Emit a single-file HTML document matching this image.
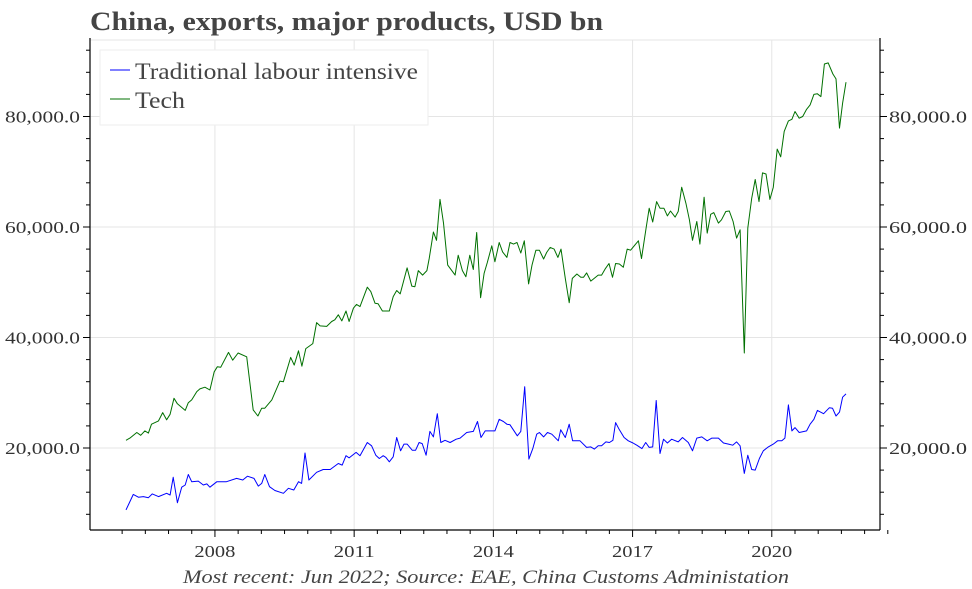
<!DOCTYPE html>
<html><head><meta charset="utf-8">
<style>
body{margin:0;background:#fff;}
svg{display:block;font-family:"Liberation Serif",serif;}
</style></head>
<body>
<svg id="chart" width="972" height="589" viewBox="0 0 972 589">
<text x="90" y="30" font-size="26" font-weight="bold" fill="#444" textLength="513" lengthAdjust="spacingAndGlyphs">China, exports, major products, USD bn</text>
<g id="grid"></g>
<g id="axes"></g>
<g id="series"></g>
<g>
<rect x="100" y="50" width="328" height="75" fill="#fff" stroke="#eee"/>
<g>
<line x1="110" y1="70" x2="130" y2="70" stroke="#0000ff" stroke-width="1"/>
<text x="135" y="79" font-size="23" fill="#444" textLength="283" lengthAdjust="spacingAndGlyphs">Traditional labour intensive</text></g>
<g>
<line x1="110" y1="99" x2="130" y2="99" stroke="#007000" stroke-width="1"/>
<text x="135" y="108" font-size="23" fill="#444" textLength="50" lengthAdjust="spacingAndGlyphs">Tech</text></g>
</g>
<text x="183" y="583" font-size="19" font-style="italic" fill="#444" textLength="606" lengthAdjust="spacingAndGlyphs">Most recent: Jun 2022; Source: EAE, China Customs Administation</text>
</svg>
<script>
// month index since Jan 2006
const techMonths=[0,1.0,2.8,3.8,4.9,5.8,6.6,8.4,9.5,10.5,11.4,12.4,13.3,15.3,16.1,17.0,18.3,19.1,20.4,21.7,22.8,23.6,24.5,26.5,27.6,29.0,31.2,32.9,34.1,35.1,35.9,37.7,39.8,40.7,42.6,43.5,44.6,45.5,46.5,48.3,49.3,50.2,51.9,53.2,54.0,54.9,55.8,56.9,57.7,58.8,59.6,60.5,62.4,63.3,64.4,65.2,66.3,68.1,69.1,70.0,70.9,72.7,73.9,74.7,75.6,76.7,77.8,78.4,79.5,80.3,81.2,82.1,83.2,85.1,85.9,87.0,87.9,88.9,89.8,90.7,91.7,92.6,93.4,94.6,95.4,96.5,97.4,98.5,99.3,100.2,101.1,102.1,103.0,104.1,105.0,106.0,106.9,108.0,108.8,109.7,110.7,111.7,112.5,113.6,114.6,115.4,116.6,117.6,118.3,119.1,120.2,122.1,123.0,124.0,124.9,125.8,126.6,127.6,128.6,129.6,130.5,132.5,133.3,134.5,135.3,136.2,137.2,138.1,139.1,140.0,140.8,142.0,142.8,143.7,144.8,145.7,146.5,147.6,148.4,149.5,150.3,151.2,152.0,153.2,154.0,155.1,156.0,157.0,157.9,158.8,159.9,160.8,161.8,162.7,163.7,164.6,165.5,166.5,167.4,168.4,169.3,170.2,171.3,172.2,173.0,174.1,175.0,176.0,176.9,177.9,178.8,179.7,180.6,181.6,182.8,183.6,184.5,185.3,186.2];
const techValues=[21.4,21.8,22.8,22.3,23.1,22.7,24.3,24.9,26.4,25.1,26.1,29.0,28.0,26.8,28.2,28.7,30.2,30.7,31.0,30.5,33.8,34.7,34.6,37.3,35.9,37.2,36.5,26.9,25.8,27.2,27.2,28.7,32.1,32.0,36.4,35.0,37.6,34.8,38.0,38.9,42.7,42.1,42.0,42.9,43.2,44.1,43.0,44.8,42.9,45.3,46.0,45.6,49.1,48.3,46.2,46.1,44.8,44.8,47.4,48.5,47.9,52.6,49.3,49.2,52.1,51.3,52.1,54.3,59.1,57.6,65.0,60.7,53.1,51.3,54.9,52.1,51.0,54.9,52.3,59.0,47.2,51.6,53.5,56.6,53.7,57.2,55.5,54.5,57.2,56.9,57.2,55.3,57.5,49.7,53.1,55.8,55.8,54.2,55.4,56.3,56.0,54.5,56.0,50.7,46.3,50.7,51.5,50.9,50.9,51.7,50.2,51.3,51.3,52.5,53.4,50.9,53.4,53.3,52.7,56.0,55.8,57.5,54.3,59.8,63.4,60.9,64.6,63.4,63.4,62.0,62.9,61.8,62.8,67.2,64.3,61.3,57.6,61.0,56.9,65.4,58.9,62.3,62.6,60.7,61.3,62.8,62.9,61.0,58.0,59.5,37.2,59.8,65.2,68.6,64.6,69.8,69.6,65.0,67.2,74.1,72.7,77.3,79.2,79.5,80.9,79.7,80.0,81.3,82.1,84.0,84.1,83.6,89.5,89.7,87.7,86.8,77.9,82.4,86.2];
const tradMonths=[0,1.9,3.2,4.5,5.8,6.8,8.4,10.5,11.4,12.2,13.3,14.4,15.3,16.1,17.0,18.7,20.0,20.9,21.7,23.5,26.0,28.6,30.2,31.4,33.1,34.2,35.1,35.9,37.1,38.5,40.7,42.0,43.4,44.6,45.4,46.3,47.3,49.3,51.0,52.8,54.9,55.9,56.9,57.7,59.5,60.5,62.4,63.5,64.6,65.5,66.5,67.2,68.1,69.1,70.0,71.0,71.9,72.7,74.0,74.9,75.8,76.6,77.6,78.6,79.5,80.5,81.4,82.5,83.8,85.4,86.4,88.1,89.8,90.9,91.8,92.9,94.1,95.4,96.5,97.6,98.5,99.3,101.2,102.1,103.1,104.2,105.2,106.2,106.9,108.0,109.0,110.1,111.8,112.4,113.6,114.6,115.5,117.4,119.1,120.2,121.1,122.1,123.0,124.1,125.0,125.9,126.6,127.6,128.8,129.9,131.1,132.1,133.4,134.4,135.3,136.2,137.1,138.1,139.0,140.0,141.1,142.8,143.9,145.4,146.5,147.6,148.9,150.3,151.5,153.2,154.5,155.8,156.9,157.9,158.8,159.9,160.8,161.8,162.7,163.8,164.8,166.1,167.4,168.5,169.6,170.4,171.3,172.2,173.0,174.1,176.0,176.9,177.9,178.8,180.4,181.9,182.7,183.6,184.5,185.3,186.2];
const tradValues=[8.8,11.6,11.1,11.2,11.0,11.7,11.2,11.8,11.5,14.7,10.1,12.9,13.3,15.2,13.9,14.0,13.3,13.5,12.9,13.9,13.9,14.5,14.2,14.9,14.5,13.1,13.6,15.2,13.0,12.3,11.8,12.7,12.4,13.9,13.6,19.1,14.2,15.6,16.1,16.1,17.2,16.9,18.6,18.2,19.2,18.6,21.0,20.4,18.7,18.1,18.6,18.3,17.5,18.4,21.9,19.5,20.7,20.7,19.6,19.6,21.0,20.8,18.7,23.0,22.0,26.2,21.0,21.4,21.0,21.6,21.8,22.8,23.0,24.8,21.9,23.1,23.1,23.1,25.2,24.8,24.3,24.2,22.2,23.0,31.1,18.0,19.9,22.5,22.8,22.0,22.8,22.5,21.3,23.3,21.9,24.3,21.3,21.3,20.1,20.2,19.8,20.4,20.4,21.1,21.0,21.4,24.6,23.3,21.9,21.3,20.9,20.5,19.9,21.0,20.1,20.2,28.6,19.0,21.6,20.9,21.6,21.1,21.9,21.0,19.5,21.8,22.0,21.3,21.8,21.8,20.9,20.7,20.5,21.1,20.4,15.4,18.7,16.1,16.0,18.1,19.5,20.2,20.7,21.3,21.3,21.8,27.8,23.1,23.7,22.8,23.1,24.3,25.2,26.8,26.2,27.3,27.2,25.8,26.5,29.2,29.8];
const yTicks=[20000,40000,60000,80000];
const yTickLabels=["20,000.0","40,000.0","60,000.0","80,000.0"];
const xTickMonths=[23,59,95,131,167];
const xTickLabels=["2008","2011","2014","2017","2020"];

const NS="http://www.w3.org/2000/svg";
const L=90,R=880,T=40,B=530;
function xs(m){return 126+m*3.867;}
function ys(v){return 558.5-v/20000*110.5;}
function mk(tag,attrs,parent){const e=document.createElementNS(NS,tag);for(const k in attrs)e.setAttribute(k,attrs[k]);parent.appendChild(e);return e;}
const grid=document.getElementById('grid'),axes=document.getElementById('axes'),series=document.getElementById('series');
mk('line',{x1:L,y1:T,x2:R,y2:T,stroke:'#e5e5e5'},grid);
yTicks.forEach((v,i)=>{
  const g=mk('line',{x1:L,y1:ys(v),x2:R,y2:ys(v),stroke:'#e5e5e5'},grid);
  
  
  const tl=mk('text',{x:L-10,y:ys(v)+6,'font-size':17,fill:'#333','text-anchor':'end',textLength:75,lengthAdjust:'spacingAndGlyphs'},axes);
  tl.textContent=yTickLabels[i];
  
  
  const tr=mk('text',{x:R+9,y:ys(v)+6,'font-size':17,fill:'#333',textLength:78,lengthAdjust:'spacingAndGlyphs'},axes);
  tr.textContent=yTickLabels[i];
  
  
});
for(let v=8000;v<=92000;v+=4000){
  const big=v%20000===0,len=big?7:4;
  mk('line',{x1:L-len,y1:ys(v),x2:L,y2:ys(v),stroke:'#000'},axes);
  mk('line',{x1:R,y1:ys(v),x2:R+len,y2:ys(v),stroke:'#000'},axes);
}
xTickMonths.forEach((m,i)=>{
  const g=mk('line',{x1:xs(m),y1:T,x2:xs(m),y2:B,stroke:'#e5e5e5'},grid);
  
  
  const t=mk('text',{x:xs(m),y:B+27,'font-size':17,fill:'#333','text-anchor':'middle',textLength:41,lengthAdjust:'spacingAndGlyphs'},axes);
  t.textContent=xTickLabels[i];
  
  
});
for(let m=-1;m<=197;m+=6){
  const big=xTickMonths.includes(m);
  mk('line',{x1:xs(m),y1:B,x2:xs(m),y2:B+(big?7:4),stroke:'#000'},axes);
}
mk('line',{x1:L,y1:T-2,x2:L,y2:B,stroke:'#000','stroke-width':1.2},axes);
mk('line',{x1:R,y1:T-2,x2:R,y2:B,stroke:'#000','stroke-width':1.2},axes);
mk('line',{x1:L,y1:B,x2:R,y2:B,stroke:'#000','stroke-width':1.2},axes);
function line(ms,vs,color,name){
  const d=ms.map((m,i)=>(i?'L':'M')+xs(m).toFixed(1)+','+ys(vs[i]*1000).toFixed(1)).join('');
  const p=mk('path',{d:d,fill:'none',stroke:color,'stroke-width':1,'stroke-linejoin':'round'},series);
  
  
}
line(tradMonths,tradValues,'#0000ff','traditional-line');
line(techMonths,techValues,'#007000','tech-line');
</script>
</body></html>
